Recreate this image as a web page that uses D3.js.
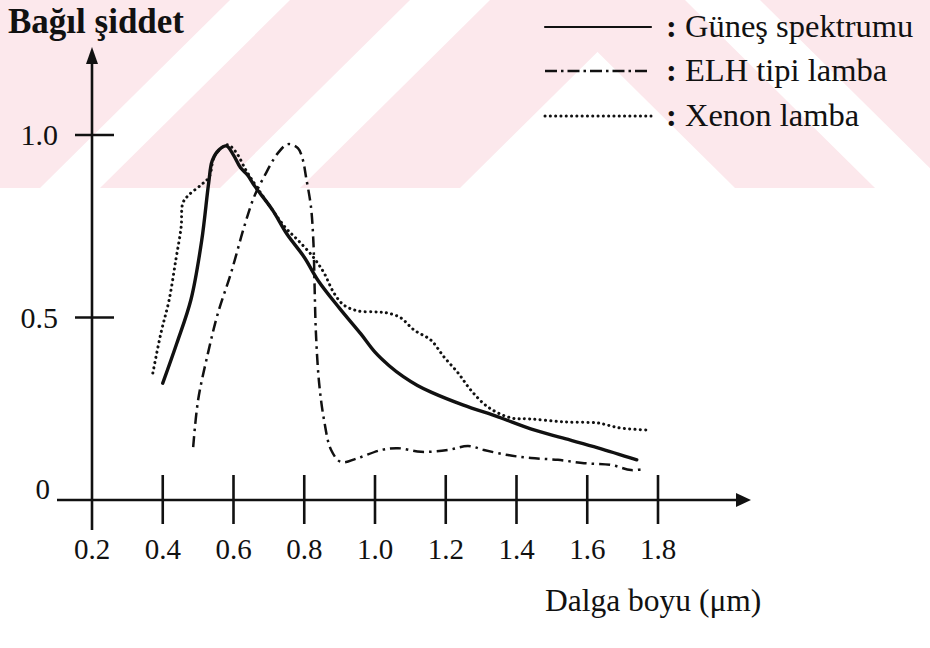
<!DOCTYPE html>
<html>
<head>
<meta charset="utf-8">
<script src="https://cdn.jsdelivr.net/npm/d3@7/dist/d3.min.js"></script>
<style>
  html, body { margin: 0; padding: 0; background: #fff; }
  svg { display: block; }
  text { font-family: "Liberation Serif", "Times New Roman", serif; fill: #111; }
</style>
</head>
<body>
<svg id="chart" width="930" height="648"></svg>
<script>
// Relative intensity vs wavelength for three light sources
const xTicks = [0.2, 0.4, 0.6, 0.8, 1.0, 1.2, 1.4, 1.6, 1.8];
const xTickLabels = ["0.2", "0.4", "0.6", "0.8", "1.0", "1.2", "1.4", "1.6", "1.8"];
const yTicks = [0.5, 1.0];
const yTickLabels = ["0.5", "1.0"];

const seriesNames = ["Güneş spektrumu", "ELH tipi lamba", "Xenon lamba"];

// [wavelength (µm), relative intensity]
const sunSpectrum = [
  [0.40, 0.32], [0.44, 0.43], [0.48, 0.55], [0.51, 0.71], [0.53, 0.87],
  [0.54, 0.93], [0.56, 0.96], [0.58, 0.97], [0.60, 0.945], [0.62, 0.91],
  [0.64, 0.89], [0.66, 0.86], [0.71, 0.795], [0.75, 0.73], [0.80, 0.665],
  [0.84, 0.60], [0.90, 0.525], [0.96, 0.455], [1.00, 0.405], [1.04, 0.368],
  [1.08, 0.338], [1.12, 0.314], [1.16, 0.295], [1.25, 0.26], [1.35, 0.227],
  [1.44, 0.195], [1.53, 0.17], [1.63, 0.143], [1.74, 0.11]
];

const elhLamp = [
  [0.486, 0.145], [0.50, 0.274], [0.528, 0.403], [0.556, 0.512], [0.593, 0.622],
  [0.63, 0.748], [0.658, 0.83], [0.686, 0.885], [0.726, 0.951], [0.754, 0.975],
  [0.782, 0.964], [0.796, 0.932], [0.805, 0.885], [0.819, 0.803], [0.826, 0.704],
  [0.829, 0.595], [0.833, 0.458], [0.842, 0.321], [0.856, 0.219], [0.876, 0.137],
  [0.904, 0.104], [0.952, 0.115], [1.017, 0.137], [1.065, 0.142], [1.13, 0.132],
  [1.206, 0.137], [1.263, 0.148], [1.308, 0.137], [1.376, 0.123], [1.441, 0.115],
  [1.517, 0.11], [1.591, 0.101], [1.667, 0.096], [1.724, 0.082], [1.76, 0.085]
];

const xenonLamp = [
  [0.372, 0.348], [0.395, 0.458], [0.418, 0.548], [0.437, 0.658], [0.452, 0.748],
  [0.457, 0.814], [0.474, 0.836], [0.508, 0.863], [0.531, 0.885], [0.545, 0.94],
  [0.565, 0.964], [0.584, 0.973], [0.607, 0.953], [0.635, 0.904], [0.664, 0.86],
  [0.706, 0.80], [0.748, 0.745], [0.782, 0.712], [0.825, 0.666], [0.856, 0.622],
  [0.884, 0.567], [0.912, 0.534], [0.952, 0.518], [1.008, 0.515], [1.037, 0.512],
  [1.073, 0.499], [1.11, 0.466], [1.158, 0.438], [1.195, 0.392], [1.235, 0.348],
  [1.271, 0.301], [1.319, 0.255], [1.384, 0.225], [1.441, 0.222], [1.534, 0.214],
  [1.63, 0.211], [1.658, 0.205], [1.695, 0.197], [1.766, 0.192]
];

const svg = d3.select("#chart");
const W = 930, H = 648, bandH = 188;

// faint pink diagonal band across the top
const band = svg.append("g");
band.append("clipPath").attr("id", "bandClip")
  .append("rect").attr("x", 0).attr("y", 0).attr("width", W).attr("height", bandH);
const bandG = band.append("g").attr("clip-path", "url(#bandClip)");
const pink = "#fce8ec";
// rising stripes: [x at bottom edge, width]
const slashStripes = [[-260, 300], [100, 120], [300, 160]];
slashStripes.forEach(([x0, w]) => {
  bandG.append("polygon")
    .attr("points", `${x0},${bandH} ${x0 + w},${bandH} ${x0 + w + 190},0 ${x0 + 190},0`)
    .attr("fill", pink);
});
// falling stripes: [x at top edge, width]
const backStripes = [[545, 140], [760, 280]];
backStripes.forEach(([x0, w]) => {
  bandG.append("polygon")
    .attr("points", `${x0},0 ${x0 + w},0 ${x0 + w + 190},${bandH} ${x0 + 190},${bandH}`)
    .attr("fill", pink);
});

const x = d3.scaleLinear().domain([0.2, 1.8]).range([92, 658]);
const y = d3.scaleLinear().domain([0, 1]).range([500, 135]);

// axes
const axisG = svg.append("g").attr("stroke", "#111").attr("stroke-width", 2.6);
axisG.append("line").attr("x1", 57).attr("x2", 738).attr("y1", y(0)).attr("y2", y(0));
axisG.append("line").attr("x1", x(0.2)).attr("x2", x(0.2)).attr("y1", 60).attr("y2", 530);
svg.append("path")
  .attr("d", `M736,${y(0) - 7} L751,${y(0)} L736,${y(0) + 7} Z`).attr("fill", "#111");
svg.append("path")
  .attr("d", `M${x(0.2) - 6},64 L${x(0.2)},47 L${x(0.2) + 6},64 Z`).attr("fill", "#111");

// x ticks
xTicks.forEach((t, i) => {
  if (i > 0) {
    axisG.append("line").attr("x1", x(t)).attr("x2", x(t))
      .attr("y1", y(0) - 25).attr("y2", y(0) + 24);
  }
  svg.append("text").attr("x", x(t)).attr("y", 559)
    .attr("text-anchor", "middle").attr("font-size", 29).text(xTickLabels[i]);
});

// y ticks
yTicks.forEach((t, i) => {
  axisG.append("line").attr("x1", x(0.2) - 17).attr("x2", x(0.2) + 22)
    .attr("y1", y(t)).attr("y2", y(t));
  svg.append("text").attr("x", 58).attr("y", y(t) + 10)
    .attr("text-anchor", "end").attr("font-size", 30).text(yTickLabels[i]);
});
svg.append("text").attr("x", 50).attr("y", y(0) - 1)
  .attr("text-anchor", "end").attr("font-size", 29).text("0");

// titles
svg.append("text").attr("x", 8).attr("y", 33)
  .attr("font-size", 35).attr("font-weight", "bold").text("Bağıl şiddet");
svg.append("text").attr("x", 545).attr("y", 611)
  .attr("font-size", 31.5).text("Dalga boyu (μm)");

// curves
const line = d3.line().x(d => x(d[0])).y(d => y(d[1])).curve(d3.curveCatmullRom.alpha(0.5));
const styles = [
  { data: sunSpectrum, width: 3.4, dash: null, cap: "round" },
  { data: elhLamp, width: 2.5, dash: "11 5 2.5 5", cap: "butt" },
  { data: xenonLamp, width: 3, dash: "0.1 5.2", cap: "round" }
];
styles.forEach(s => {
  svg.append("path").datum(s.data)
    .attr("d", line)
    .attr("fill", "none").attr("stroke", "#111")
    .attr("stroke-width", s.width)
    .attr("stroke-linecap", s.cap)
    .attr("stroke-linejoin", "round")
    .attr("stroke-dasharray", s.dash);
});

// legend
const legendY = [27, 71, 116];
styles.forEach((s, i) => {
  svg.append("line").attr("x1", 545).attr("x2", 651)
    .attr("y1", legendY[i]).attr("y2", legendY[i])
    .attr("stroke", "#111").attr("stroke-width", i === 0 ? 2.2 : s.width)
    .attr("stroke-linecap", s.cap)
    .attr("stroke-dasharray", i === 1 ? "12 4 2.5 4" : s.dash);
  const t = svg.append("text").attr("x", 666).attr("y", legendY[i] + 10).attr("font-size", 32.5);
  t.append("tspan").attr("font-weight", "bold").text(":");
  t.append("tspan").text(" " + seriesNames[i]);
});
</script>
</body>
</html>
